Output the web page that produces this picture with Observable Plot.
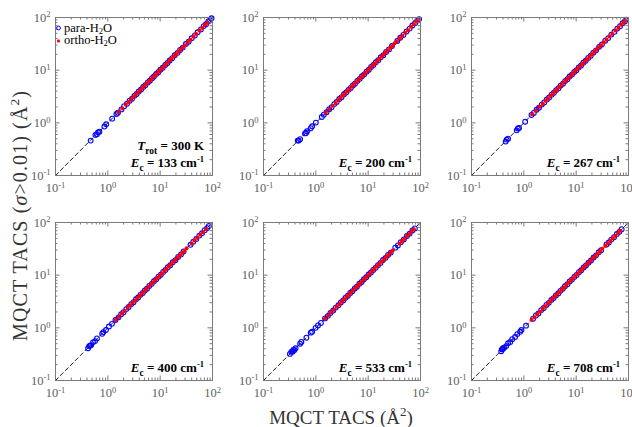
<!DOCTYPE html>
<html>
<head>
<meta charset="utf-8">
<script src="https://cdn.jsdelivr.net/npm/d3@7"></script>
<script src="https://cdn.jsdelivr.net/npm/@observablehq/plot@0.6"></script>
<style>
  body { margin: 0; background: #fff; }
  #root { position: relative; width: 632px; height: 427px; overflow: hidden; background: #fff; }
  .panel { position: absolute; }
  #titles { position: absolute; left: 0; top: 0; pointer-events: none; }
</style>
</head>
<body>
<div id="root"></div>
<script>
// ---------- data ----------
const majorTicks = [0.1, 1, 10, 100];
const minorTicks = [0.2,0.3,0.4,0.5,0.6,0.7,0.8,0.9, 2,3,4,5,6,7,8,9, 20,30,40,50,60,70,80,90];
const diag = [0.1, 100];
const energies = ["133", "200", "267", "400", "533", "708"];

const para133 = [[0.47,0.46],[0.58,0.59],[0.62,0.61],[0.65,0.66],[0.69,0.68],[0.86,0.85],[0.93,0.94],[1.21,1.2],[1.46,1.47],[1.56,1.55],[1.82,1.8],[2.05,2.07],[2.32,2.3],[2.61,2.63],[2.9,2.88],[3.22,3.25],[3.55,3.52],[3.9,3.93],[4.32,4.3],[4.75,4.78],[5.2,5.17],[5.8,5.84],[6.35,6.3],[7.0,7.05],[7.6,7.57],[8.4,8.45],[9.2,9.15],[10.1,10.2],[11.2,11.1],[12.5,12.6],[13.8,13.7],[15.2,15.3],[17.0,16.9],[19.0,19.2],[21.5,21.3],[24.0,24.2],[27.0,26.8],[31,31.3],[35,34.7],[40,40.4],[46,45.6],[52,52.5],[60,59.4],[68,68.6],[75,74.3],[83,83.7],[90,89.2],[96,96.5]];
const ortho133 = [[1.6,1.61],[1.9,1.88],[2.2,2.22],[2.5,2.48],[2.8,2.83],[3.1,3.08],[3.4,3.43],[3.8,3.77],[4.2,4.24],[4.6,4.56],[5.0,5.05],[5.5,5.45],[6.0,6.06],[6.6,6.54],[7.2,7.27],[7.9,7.83],[8.6,8.68],[9.4,9.32],[10.3,10.4],[11.3,11.2],[12.4,12.5],[13.6,13.5],[15.0,15.1],[16.5,16.4],[18.2,18.4],[20,19.8],[22,22.2],[24.5,24.3],[27,27.3],[30,29.7],[34,34.3],[38,37.7],[43,43.4],[49,48.6],[56,56.5],[64,63.5],[72,72.6],[80,79.3]];

const para200 = [[0.45,0.46],[0.47,0.46],[0.5,0.49],[0.62,0.63],[0.65,0.64],[0.68,0.69],[0.8,0.79],[0.85,0.86],[1.0,1.01],[1.3,1.29],[1.42,1.43],[1.6,1.59],[1.8,1.82],[2.0,1.98],[2.25,2.27],[2.5,2.48],[2.8,2.83],[3.1,3.07],[3.45,3.48],[3.8,3.77],[4.2,4.23],[4.65,4.61],[5.1,5.14],[5.6,5.55],[6.2,6.25],[6.9,6.84],[7.6,7.66],[8.4,8.33],[9.3,9.38],[10.3,10.2],[11.4,11.5],[12.6,12.5],[14,14.1],[15.6,15.5],[17.4,17.6],[19.5,19.3],[22,22.2],[25,24.8],[28.5,28.7],[36,35.7],[41,41.3],[47,46.6],[54,54.4],[62,61.5],[70,70.5],[79,78.4],[87,87.6],[94,93.3]];
const ortho200 = [[1.55,1.56],[1.8,1.79],[2.1,2.12],[2.4,2.38],[2.7,2.72],[3.0,2.98],[3.3,3.33],[3.65,3.62],[4.0,4.04],[4.4,4.36],[4.85,4.89],[5.3,5.26],[5.8,5.85],[6.4,6.35],[7.0,7.06],[7.7,7.64],[8.5,8.57],[9.3,9.22],[10.2,10.3],[11.2,11.1],[12.3,12.4],[13.5,13.4],[14.9,15.0],[16.4,16.3],[18.0,18.2],[19.8,19.6],[21.8,22.0],[24,23.8],[26.5,26.7],[29,28.8],[32,32.3],[35.5,35.2],[40,40.3],[45,44.6],[51,51.4],[58,57.5],[66,66.5],[75,74.4],[84,84.7],[90,89.3]];

const para267 = [[0.45,0.44],[0.47,0.48],[0.5,0.5],[0.73,0.72],[0.77,0.78],[0.81,0.8],[1.06,1.05],[1.4,1.41],[1.55,1.54],[1.75,1.77],[1.95,1.93],[2.2,2.22],[2.45,2.43],[2.75,2.77],[3.05,3.02],[3.4,3.43],[3.75,3.72],[4.15,4.18],[4.6,4.56],[5.05,5.09],[5.6,5.55],[6.15,6.2],[6.8,6.74],[7.5,7.56],[8.3,8.23],[9.2,9.27],[10.1,10.0],[11.2,11.3],[12.4,12.3],[13.7,13.8],[15.2,15.1],[17.0,17.1],[19,18.8],[21.3,21.5],[24,23.8],[27.5,27.7],[31,30.7],[36,36.3],[41,40.6],[47,47.4],[54,53.5],[61,61.5],[69,68.4],[77,77.6],[85,84.3],[90,90.6]];
const ortho267 = [[1.45,1.46],[1.7,1.69],[2.0,2.02],[2.3,2.28],[2.6,2.62],[2.9,2.88],[3.2,3.23],[3.55,3.52],[3.9,3.94],[4.3,4.26],[4.75,4.79],[5.2,5.16],[5.7,5.75],[6.3,6.25],[6.9,6.96],[7.6,7.54],[8.4,8.47],[9.2,9.13],[10.1,10.2],[11.1,11.0],[12.2,12.3],[13.4,13.3],[14.8,14.9],[16.3,16.2],[18.0,18.2],[20,19.8],[22,22.2],[24.5,24.3],[27,27.2],[30,29.8],[33.5,33.8],[38,37.7],[43,43.4],[49,48.6],[56,56.4],[64,63.5],[72,72.6],[80,79.4],[86,86.6]];

const para400 = [[0.42,0.41],[0.44,0.45],[0.46,0.46],[0.48,0.47],[0.52,0.53],[0.57,0.56],[0.62,0.63],[0.78,0.77],[0.82,0.83],[0.92,0.91],[1.05,1.06],[1.2,1.19],[1.4,1.41],[1.6,1.58],[1.8,1.82],[2.0,1.98],[2.25,2.27],[2.5,2.48],[2.8,2.82],[3.1,3.07],[3.45,3.48],[3.8,3.77],[4.2,4.23],[4.65,4.61],[5.1,5.14],[5.6,5.55],[6.2,6.25],[6.9,6.84],[7.6,7.66],[8.4,8.33],[9.3,9.38],[10.3,10.2],[11.4,11.5],[12.6,12.5],[14,14.1],[15.6,15.5],[17.4,17.6],[19.5,19.3],[22,22.2],[25,24.8],[28,28.2],[38,37.7],[43,43.3],[49,48.6],[56,56.4],[63,62.5],[71,71.6],[79,78.3],[85,85.7]];
const ortho400 = [[1.4,1.41],[1.62,1.61],[1.85,1.87],[2.1,2.08],[2.4,2.42],[2.7,2.68],[3.0,3.03],[3.35,3.32],[3.7,3.73],[4.1,4.07],[4.5,4.54],[5.0,4.96],[5.5,5.55],[6.05,6.0],[6.7,6.76],[7.4,7.34],[8.2,8.27],[9.0,8.93],[9.9,10.0],[10.9,10.8],[12.0,12.1],[13.2,13.1],[14.6,14.7],[16.1,16.0],[17.8,17.9],[19.6,19.4],[21.6,21.8],[24,23.8],[26.5,26.7],[29,28.8],[32,32.3],[40,39.7],[45,45.4],[51,50.6],[58,58.5],[66,65.4],[75,75.6]];

const para533 = [[0.32,0.32],[0.34,0.35],[0.36,0.35],[0.37,0.38],[0.39,0.38],[0.41,0.41],[0.5,0.5],[0.53,0.54],[0.66,0.65],[0.8,0.81],[0.85,0.84],[0.99,1.0],[1.1,1.11],[1.25,1.24],[1.5,1.51],[1.7,1.69],[1.9,1.92],[2.15,2.13],[2.4,2.42],[2.7,2.68],[3.0,3.03],[3.35,3.32],[3.7,3.73],[4.1,4.07],[4.55,4.59],[5.0,4.96],[5.55,5.6],[6.1,6.05],[6.8,6.86],[7.5,7.44],[8.3,8.37],[9.2,9.13],[10.2,10.3],[11.3,11.2],[12.5,12.6],[13.9,13.8],[15.4,15.5],[17.2,17.0],[19.2,19.4],[21.5,21.3],[24,24.2],[27,26.8],[33,33.3],[37,36.7],[42,42.4],[48,47.6],[55,55.5],[62,61.5],[70,70.6],[78,77.3]];
const ortho533 = [[1.5,1.51],[1.72,1.71],[1.95,1.97],[2.2,2.18],[2.5,2.52],[2.8,2.78],[3.1,3.13],[3.45,3.42],[3.8,3.83],[4.2,4.17],[4.6,4.64],[5.1,5.06],[5.6,5.65],[6.2,6.15],[6.8,6.86],[7.5,7.44],[8.3,8.37],[9.1,9.03],[10.0,10.1],[11.0,10.9],[12.1,12.2],[13.3,13.2],[14.7,14.8],[16.2,16.1],[17.9,18.0],[19.7,19.5],[21.7,21.9],[24,23.8],[26.5,26.7],[29.5,29.3],[40,39.7],[44,44.4],[49,48.6],[55,55.4],[61,60.5],[68,68.6],[75,74.4]];

const para708 = [[0.37,0.36],[0.38,0.39],[0.39,0.39],[0.4,0.41],[0.42,0.42],[0.46,0.45],[0.5,0.51],[0.55,0.54],[0.6,0.61],[0.68,0.67],[0.75,0.76],[0.85,0.84],[0.9,0.91],[1.1,1.1],[1.5,1.49],[1.7,1.72],[1.9,1.88],[2.15,2.17],[2.4,2.38],[2.7,2.72],[3.0,2.98],[3.35,3.38],[3.7,3.67],[4.1,4.13],[4.55,4.51],[5.0,5.04],[5.55,5.5],[6.1,6.15],[6.8,6.74],[7.5,7.56],[8.3,8.23],[9.2,9.27],[10.2,10.1],[11.3,11.4],[12.5,12.4],[13.9,14.0],[15.4,15.3],[17.2,17.3],[19.2,19.0],[21.5,21.7],[24,23.8],[27,27.2],[30,29.8],[38,38.3],[42,41.7],[47,47.4],[53,52.6],[60,60.5],[67,66.5],[74,74.6]];
const ortho708 = [[1.4,1.41],[1.6,1.59],[1.82,1.84],[2.05,2.03],[2.3,2.32],[2.6,2.58],[2.9,2.93],[3.25,3.22],[3.6,3.63],[4.0,3.97],[4.4,4.44],[4.85,4.81],[5.35,5.4],[5.9,5.85],[6.5,6.56],[7.2,7.14],[7.9,7.97],[8.7,8.63],[9.6,9.7],[10.6,10.5],[11.7,11.8],[12.9,12.8],[14.2,14.3],[15.7,15.6],[17.3,17.4],[19.1,18.9],[21.1,21.3],[23.3,23.1],[25.7,25.9],[28.4,28.2],[31.4,31.7],[36,35.7],[40,40.3],[45,44.6],[50,50.4],[56,55.5],[63,63.5],[70,69.4]];

const paraSets = [para133, para200, para267, para400, para533, para708];
const orthoSets = [ortho133, ortho200, ortho267, ortho400, ortho533, ortho708];
const legendLabels = ["para-H", "ortho-H"];

// ---------- layout ----------
const SERIF = "'Liberation Serif', 'Times New Roman', Times, serif";
const PW = 157, PH = 158;
const ML = 40, MR = 8, MT = 10, MB = 40;
const colLeft = [55, 263, 471];
const rowTop = [17, 222];
const GRAY = "#7a7a7a";
const NS = "http://www.w3.org/2000/svg";

const root = document.getElementById("root");
const fmt = d => "10^" + Math.round(Math.log10(d));

function supTicks(svg) {
  svg.querySelectorAll("text").forEach(t => {
    const s = t.textContent;
    if (s.startsWith("10^")) {
      const e = s.slice(3);
      t.textContent = "10";
      const ts = document.createElementNS(NS, "tspan");
      ts.setAttribute("dy", "-0.5em");
      ts.setAttribute("font-size", "8.5");
      ts.textContent = e;
      t.appendChild(ts);
    }
  });
}

function addSubLabel(g, x, y, main, sub, rest, sup) {
  const t = g.append("text").attr("x", x).attr("y", y);
  t.append("tspan").attr("font-style", "italic").text(main);
  t.append("tspan").attr("font-size", 9.5).attr("dy", 3.5).text(sub);
  t.append("tspan").attr("dy", -3.5).text(rest);
  if (sup) t.append("tspan").attr("font-size", 8.5).attr("dy", -5).text(sup);
}

energies.forEach((e, i) => {
  const col = i % 3, row = Math.floor(i / 3);
  const plot = Plot.plot({
    width: ML + PW + MR,
    height: MT + PH + MB,
    marginLeft: ML, marginRight: MR, marginTop: MT, marginBottom: MB,
    style: { fontFamily: SERIF, fontSize: "12.5px", color: "#606060", background: "transparent", overflow: "visible" },
    x: { type: "log", domain: diag, ticks: majorTicks, tickSize: 0, tickPadding: 8, tickFormat: fmt, label: null },
    y: { type: "log", domain: diag, ticks: majorTicks, tickSize: 0, tickPadding: 5, tickFormat: fmt, label: null },
    marks: [
      Plot.line(diag, { x: d => d, y: d => d, stroke: "#000", strokeWidth: 0.9, strokeDasharray: "4,3" }),
      Plot.dot(paraSets[i], { x: d => d[0], y: d => d[1], r: 2.4, stroke: "#0000ff", strokeWidth: 1.1, fill: "none" }),
      Plot.dot(orthoSets[i], { x: d => d[0], y: d => d[1], r: 2.0, fill: "#ff0000", stroke: "none" }),
      // inward ticks on all four sides
      Plot.tickX(majorTicks, { x: d => d, stroke: GRAY, insetTop: PH - 4.5 }),
      Plot.tickX(majorTicks, { x: d => d, stroke: GRAY, insetBottom: PH - 4.5 }),
      Plot.tickX(minorTicks, { x: d => d, stroke: GRAY, insetTop: PH - 2.5 }),
      Plot.tickX(minorTicks, { x: d => d, stroke: GRAY, insetBottom: PH - 2.5 }),
      Plot.tickY(majorTicks, { y: d => d, stroke: GRAY, insetRight: PW - 4.5 }),
      Plot.tickY(majorTicks, { y: d => d, stroke: GRAY, insetLeft: PW - 4.5 }),
      Plot.tickY(minorTicks, { y: d => d, stroke: GRAY, insetRight: PW - 2.5 }),
      Plot.tickY(minorTicks, { y: d => d, stroke: GRAY, insetLeft: PW - 2.5 }),
      Plot.frame({ stroke: GRAY, strokeWidth: 1 })
    ]
  });
  plot.classList.add("panel");
  plot.style.left = (colLeft[col] - ML) + "px";
  plot.style.top = (rowTop[row] - MT) + "px";
  root.appendChild(plot);
  supTicks(plot);

  const svg = d3.select(plot);
  const g = svg.append("g")
    .attr("font-family", SERIF).attr("font-weight", "bold").attr("font-size", 13)
    .attr("fill", "#000").attr("text-anchor", "end");
  const rx = ML + PW - 8, by = MT + PH - 8;
  addSubLabel(g, rx, by, "E", "c", ` = ${e} cm`, "-1");
  if (i === 0) {
    addSubLabel(g, rx, by - 17, "T", "rot", " = 300 K", null);
    // legend
    const lg = svg.append("g").attr("font-family", SERIF).attr("font-size", 12.5)
      .attr("fill", "#000").attr("text-anchor", "start");
    const sx = ML + 3.5;
    lg.append("circle").attr("cx", sx).attr("cy", MT + 11).attr("r", 1.9)
      .attr("fill", "none").attr("stroke", "#0000ff").attr("stroke-width", 1);
    lg.append("rect").attr("x", sx - 1.4).attr("y", MT + 22.6).attr("width", 2.8).attr("height", 2.8).attr("fill", "#ff0000");
    [0, 1].forEach(k => {
      const t = lg.append("text").attr("x", sx + 5.5).attr("y", MT + 15 + k * 12.3);
      t.append("tspan").text(legendLabels[k]);
      t.append("tspan").attr("font-size", 8.5).attr("dy", 2).text("2");
      t.append("tspan").attr("dy", -2).text("O");
    });
  }
});

// axis titles
const tsvg = d3.select(root).append("svg").attr("id", "titles").attr("width", 632).attr("height", 427)
  .attr("font-family", SERIF).attr("font-size", 19).attr("fill", "#333");
const xt = tsvg.append("text").attr("x", 341).attr("y", 424).attr("text-anchor", "middle");
xt.append("tspan").text("MQCT TACS (Å");
xt.append("tspan").attr("font-size", 13).attr("dy", -8).text("2");
xt.append("tspan").attr("dy", 8).text(")");
const yt = tsvg.append("text").attr("transform", "translate(27,216) rotate(-90)")
  .attr("font-size", 20).attr("text-anchor", "middle").attr("textLength", 250).attr("lengthAdjust", "spacing");
yt.append("tspan").text("MQCT TACS (");
yt.append("tspan").attr("font-style", "italic").text("σ");
yt.append("tspan").text(">0.01) (Å");
yt.append("tspan").attr("font-size", 13.5).attr("dy", -8).text("2");
yt.append("tspan").attr("dy", 8).text(")");
</script>
</body>
</html>
